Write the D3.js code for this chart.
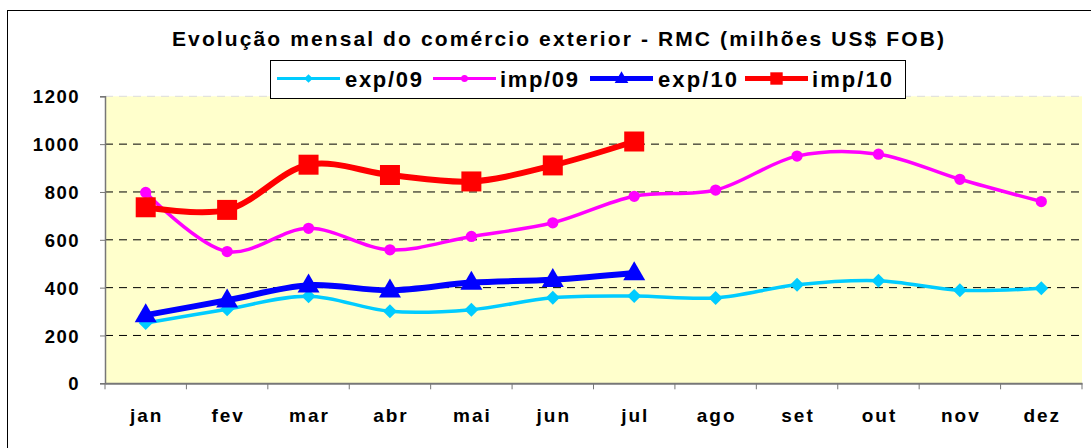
<!DOCTYPE html>
<html><head><meta charset="utf-8">
<script src="https://cdn.jsdelivr.net/npm/d3@7"></script>
<style>body{margin:0;background:#fff}svg{display:block;font-family:"Liberation Sans",Arial,sans-serif}</style>
</head><body><svg id="c" width="1091" height="448"></svg>
<script>
const months = ["jan","fev","mar","abr","mai","jun","jul","ago","set","out","nov","dez"];
const exp09 = [252,310,364,301,308,358,365,357,412,429,389,397];
const imp09 = [798,551,648,558,614,671,782,808,950,958,853,760];
const exp10 = [285,347,410,389,421,433,461];
const imp10 = [736,725,914,871,844,911,1011];
const yTicks = [0,200,400,600,800,1000,1200];
const title = "Evolução mensal do comércio exterior - RMC (milhões US$ FOB)";

const svg = d3.select("#c");
const L=105, R=1082, T=96.3, B=383.3;
svg.append("rect").attr("x",7.5).attr("y",10.5).attr("width",1090).attr("height",460).attr("fill","#fff").attr("stroke","#000");
svg.append("rect").attr("x",L).attr("y",T).attr("width",R-L).attr("height",B-T).attr("fill","#FFFFCC");

const x = d3.scaleBand().domain(months).range([L,R]);
const y = d3.scaleLinear().domain([0,1200]).range([B,T]);
const cx = m => x(m)+x.bandwidth()/2;

svg.append("g").selectAll("line").data(yTicks.filter(v=>v>0)).join("line")
  .attr("x1",L).attr("x2",R).attr("y1",d=>y(d)).attr("y2",d=>y(d))
  .attr("stroke",d=>d===1200?"#ddd":"#000").attr("stroke-width",1).attr("stroke-dasharray","8,6");

const ya = svg.append("g").attr("transform",`translate(${L},0)`).call(d3.axisLeft(y).tickValues(yTicks).tickFormat(d3.format("d")).tickSize(5).tickPadding(20));
ya.select(".domain").attr("stroke","#777").attr("stroke-width",1.5);
ya.selectAll(".tick line").attr("stroke","#777");
ya.selectAll("text").attr("font-size",18.5).attr("font-weight","bold").attr("fill","#000").attr("letter-spacing","1.5px").attr("dy","0.36em");
const xa = svg.append("g").attr("transform",`translate(0,${B})`).call(d3.axisBottom(x).tickSize(0).tickPadding(25));
xa.select(".domain").attr("stroke","#777").attr("stroke-width",2);
xa.selectAll("text").attr("font-size",19).attr("font-weight","bold").attr("fill","#000").attr("letter-spacing","2px").attr("dx","1px");
svg.append("g").selectAll("line").data(d3.range(13)).join("line")
  .attr("x1",i=>L+i*x.bandwidth()).attr("x2",i=>L+i*x.bandwidth()).attr("y1",B).attr("y2",B+6)
  .attr("stroke","#777").attr("stroke-width",1);

const curve = d3.curveCatmullRom.alpha(0.5);
const series = [
  {name:"exp/09", data:exp09, color:"#00CCFF", w:3.5, lw:3, marker:"diamond", lx:277, tx:345, tw:77},
  {name:"imp/09", data:imp09, color:"#FF00FF", w:3.5, lw:3, marker:"circle", lx:433, tx:500, tw:78},
  {name:"exp/10", data:exp10, color:"#0000FF", w:6, lw:5, marker:"triangle", lx:590, tx:658, tw:79},
  {name:"imp/10", data:imp10, color:"#FF0000", w:6, lw:5, marker:"square", lx:745, tx:812, tw:80}
];
function shape(type, k){
  if(type==="diamond"){const r=7*k;return `M0,${-r}L${r},0L0,${r}L${-r},0Z`;}
  if(type==="circle"){return d3.symbol().type(d3.symbolCircle).size(100*k*k)();}
  if(type==="triangle"){const w=11*k,h=19*k;return `M0,${-h*0.62}L${w},${h*0.38}L${-w},${h*0.38}Z`;}
  if(type==="square"){const r=10*k;return `M${-r},${-r}H${r}V${r}H${-r}Z`;}
}
function marker(g, s, px, py, k){
  g.append("path").attr("d",shape(s.marker,k)).attr("transform",`translate(${px},${py})`).attr("fill",s.color);
}
series.forEach(s=>{
  const pts = s.data.map((v,i)=>[cx(months[i]), y(v)]);
  svg.append("path").attr("d",d3.line().curve(curve)(pts)).attr("fill","none").attr("stroke",s.color).attr("stroke-width",s.w).attr("stroke-linejoin","round");
  const g = svg.append("g");
  pts.forEach(p=>marker(g,s,p[0],p[1],1));
});

svg.append("text").attr("x",172).attr("y",46).attr("font-size",21).attr("font-weight","bold")
  .attr("textLength",772).attr("lengthAdjust","spacing").text(title);

svg.append("rect").attr("x",270.5).attr("y",60.5).attr("width",635).attr("height",38).attr("fill","#fff").attr("stroke","#000");
series.forEach(s=>{
  const g=svg.append("g");
  g.append("line").attr("x1",s.lx).attr("x2",s.lx+63).attr("y1",78.5).attr("y2",78.5).attr("stroke",s.color).attr("stroke-width",s.lw);
  marker(g,s,s.lx+31.5,78.5,0.62);
  g.append("text").attr("x",s.tx).attr("y",86.5).attr("font-size",22).attr("font-weight","bold")
    .attr("textLength",s.tw).attr("lengthAdjust","spacing").text(s.name);
});
</script></body></html>
